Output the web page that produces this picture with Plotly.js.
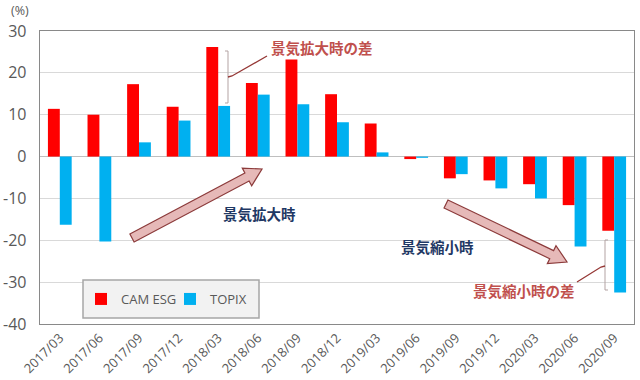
<!DOCTYPE html>
<html>
<head>
<meta charset="utf-8">
<script src="https://cdn.plot.ly/plotly-3.0.1.min.js"></script>
<style>html,body{margin:0;padding:0;background:#fff;}#chart{width:640px;height:380px;}</style>
</head>
<body>
<div id="chart"></div>
<script>
const categories = ["2017/03","2017/06","2017/09","2017/12","2018/03","2018/06","2018/09","2018/12","2019/03","2019/06","2019/09","2019/12","2020/03","2020/06","2020/09"];
const camEsg = [11.4, 10.0, 17.3, 11.9, 26.2, 17.6, 23.2, 14.9, 7.9, -0.6, -5.2, -5.7, -6.6, -11.6, -17.7];
const topix = [-16.3, -20.3, 3.4, 8.6, 12.1, 14.8, 12.5, 8.2, 1.0, -0.3, -4.2, -7.6, -10.0, -21.5, -32.5];
const yTicks = [30, 20, 10, 0, -10, -20, -30, -40];

// plot area in pixels
const L = 40, R = 634, T = 31, B = 324;
const px = x => (x - L) / (R - L);
const py = y => (B - y) / (B - T);

function fatArrow(x0, y0, x1, y1, w, hw, hl) {
  const dx = x1 - x0, dy = y1 - y0, len = Math.hypot(dx, dy);
  const ux = dx / len, uy = dy / len, nx = -uy, ny = ux;
  const nkx = x1 - ux * hl, nky = y1 - uy * hl;
  const pts = [
    [x0 + nx * w, y0 + ny * w],
    [nkx + nx * w, nky + ny * w],
    [nkx + nx * hw, nky + ny * hw],
    [x1, y1],
    [nkx - nx * hw, nky - ny * hw],
    [nkx - nx * w, nky - ny * w],
    [x0 - nx * w, y0 - ny * w]
  ];
  return 'M' + pts.map(p => px(p[0]).toFixed(5) + ',' + py(p[1]).toFixed(5)).join(' L') + ' Z';
}
function pathPx(pts) {
  return 'M' + pts.map(p => px(p[0]).toFixed(5) + ',' + py(p[1]).toFixed(5)).join(' L');
}

const tickFont = {family: "Open Sans, sans-serif", color: "#595959"};
const jpFont = "Noto Sans CJK JP, sans-serif";

const traces = [
  {type: "bar", name: "CAM ESG", x: categories, y: camEsg, marker: {color: "#ff0000"}},
  {type: "bar", name: "TOPIX", x: categories, y: topix, marker: {color: "#00b0f0"}}
];

const bracketColor = "#b3a3a3";
const shapes = [
  // legend box
  {type: "rect", xref: "paper", yref: "paper", x0: px(83), x1: px(259), y0: py(318), y1: py(280),
   fillcolor: "#f2f2f2", line: {color: "#a6a6a6", width: 1.5}, layer: "above"},
  // arrows
  {type: "path", xref: "paper", yref: "paper", path: fatArrow(132, 238, 262, 169, 4.5, 10, 17),
   fillcolor: "#e6b9b8", line: {color: "#8c3b3b", width: 1.2}, layer: "above"},
  {type: "path", xref: "paper", yref: "paper", path: fatArrow(446, 204, 567, 262, 4.5, 10, 17),
   fillcolor: "#e6b9b8", line: {color: "#8c3b3b", width: 1.2}, layer: "above"},
  // bracket 1
  {type: "path", xref: "paper", yref: "paper", path: pathPx([[225, 51], [228, 51], [228, 103], [225, 103]]),
   line: {color: bracketColor, width: 1}, layer: "above"},
  {type: "path", xref: "paper", yref: "paper", path: pathPx([[228, 77], [232, 76], [267, 56]]),
   line: {color: "#953735", width: 1.3}, layer: "above"},
  // bracket 2
  {type: "path", xref: "paper", yref: "paper", path: pathPx([[608, 240], [605, 240], [605, 290], [608, 290]]),
   line: {color: bracketColor, width: 1}, layer: "above"},
  {type: "path", xref: "paper", yref: "paper", path: pathPx([[605, 266], [601, 267], [577, 282]]),
   line: {color: "#953735", width: 1.3}, layer: "above"}
];

const annotations = [
  {xref: "paper", yref: "paper", x: px(322), y: py(47), text: "<b>景気拡大時の差</b>", showarrow: false,
   xanchor: "center", yanchor: "middle", font: {family: jpFont, size: 14.5, color: "#c0504d"}},
  {xref: "paper", yref: "paper", x: px(259), y: py(213), text: "<b>景気拡大時</b>", showarrow: false,
   xanchor: "center", yanchor: "middle", font: {family: jpFont, size: 14.5, color: "#1f3864"}},
  {xref: "paper", yref: "paper", x: px(437), y: py(246), text: "<b>景気縮小時</b>", showarrow: false,
   xanchor: "center", yanchor: "middle", font: {family: jpFont, size: 14.5, color: "#1f3864"}},
  {xref: "paper", yref: "paper", x: px(524), y: py(290), text: "<b>景気縮小時の差</b>", showarrow: false,
   xanchor: "center", yanchor: "middle", font: {family: jpFont, size: 14.5, color: "#c0504d"}},
  {xref: "paper", yref: "paper", x: px(9), y: py(10), text: "(%)", showarrow: false,
   xanchor: "left", yanchor: "middle", font: {family: "Open Sans, sans-serif", size: 12.5, color: "#595959"}}
];

const layout = {
  width: 640, height: 380,
  margin: {l: L, r: 640 - R, t: T, b: 380 - B, pad: 0},
  paper_bgcolor: "#ffffff", plot_bgcolor: "#ffffff",
  barmode: "group", bargap: 0.4, bargroupgap: 0,
  showlegend: true,
  legend: {orientation: "h", x: px(81), y: py(299), xanchor: "left", yanchor: "middle",
           bgcolor: "rgba(0,0,0,0)", borderwidth: 0,
           font: {family: "Open Sans, sans-serif", size: 13, color: "#595959"},
           entrywidth: 44, itemwidth: 30, traceorder: "normal"},
  xaxis: {type: "category", tickangle: -45, tickfont: Object.assign({size: 13}, tickFont),
          showgrid: false, showline: true, linecolor: "#898989", linewidth: 1.3, mirror: true,
          ticks: "", zeroline: false, fixedrange: true},
  yaxis: {range: [-40, 30], tickvals: yTicks, ticktext: yTicks.map(String),
          tickfont: Object.assign({size: 16}, tickFont),
          showgrid: true, gridcolor: "#d9d9d9", gridwidth: 1,
          zeroline: true, zerolinecolor: "#bfbfbf", zerolinewidth: 1.3,
          showline: true, linecolor: "#898989", linewidth: 1.3, mirror: true,
          ticks: "outside", ticklen: 9, tickcolor: "rgba(0,0,0,0)", fixedrange: true},
  shapes: shapes,
  annotations: annotations
};

Plotly.newPlot("chart", traces, layout, {displayModeBar: false, staticPlot: true});
</script>
</body>
</html>
